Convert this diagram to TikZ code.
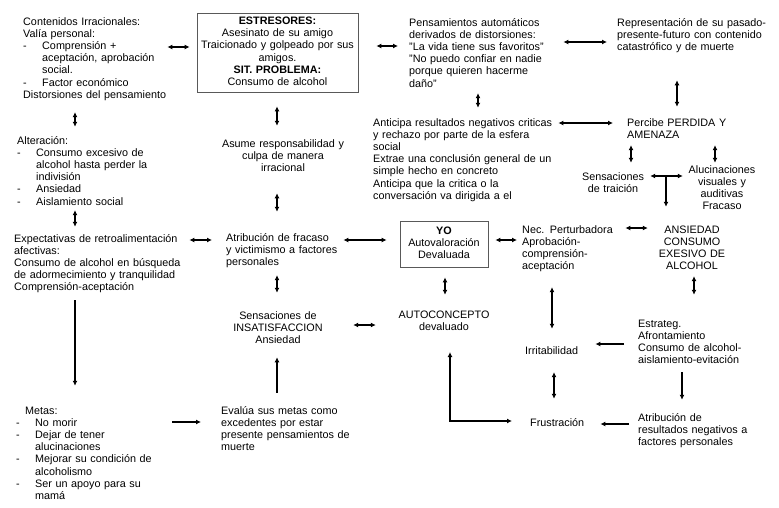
\documentclass[tikz,border=0pt]{standalone}
\usepackage{fontspec}
\setmainfont{Liberation Sans}
\usetikzlibrary{arrows.meta}
\newcommand{\litem}{\makebox[19pt][l]{-}}
\newcommand{\lcont}{\hspace*{19pt}}
\tikzset{
  lt/.style={anchor=base west, align=left, inner sep=0pt, text width=#1,
    execute at begin node=\strut, execute at end node=\strut},
  ct/.style={anchor=base, align=center, inner sep=0pt, text width=#1,
    execute at begin node=\strut, execute at end node=\strut},
  bx/.style={draw=black!65, line width=0.8pt, align=center, inner sep=0pt, text width=#1,
    execute at begin node=\strut, execute at end node=\strut},
  dbl/.style={{Latex[length=5pt,width=5pt]}-{Latex[length=5pt,width=5pt]}, line width=1.2pt},
  sgl/.style={-{Latex[length=5pt,width=5pt]}, line width=1.2pt}
}
\begin{document}
\begin{tikzpicture}[x=1pt,y=1pt,yscale=-1,xscale=1,font=\fontsize{10.8}{12.2}\selectfont]
        \path[use as bounding box, fill=white] (0,0) rectangle (779,507);

        % Text Node
        \node[lt=144] (cont) at (23,25) {Contenidos Irracionales:\\Valía personal:\\\litem Comprensión +\\\lcont aceptación, aprobación\\\lcont social.\\\litem Factor económico\\Distorsiones del pensamiento};
        % Box
        \node[bx=155, minimum width=161pt, minimum height=79pt] (estr) at (277.5,52.5) {\textbf{ESTRESORES:}\\Asesinato de su amigo\\Traicionado y golpeado por sus\\amigos.\\\textbf{SIT. PROBLEMA:}\\Consumo de alcohol};
        % Text Node
        \node[lt=152] (pens) at (409,26) {Pensamientos automáticos\\derivados de distorsiones:\\"La vida tiene sus favoritos"\\"No puedo confiar en nadie\\porque quieren hacerme\\daño"};
        % Text Node
        \node[lt=155] (repr) at (617,26) {Representación de su pasado-\\presente-futuro con contenido\\catastrófico y de muerte};
        % Text Node
        \node[lt=150] (alter) at (17,144) {Alteración:\\\litem Consumo excesivo de\\\lcont alcohol hasta perder la\\\lcont indivisión\\\litem Ansiedad\\\litem Aislamiento social};
        % Text Node
        \node[ct=130] (asume) at (283,147) {Asume responsabilidad y\\culpa de manera\\irracional};
        % Text Node
        \node[lt=184] (anticipa) at (373,126) {Anticipa resultados negativos criticas\\y rechazo por parte de la esfera\\social\\Extrae una conclusión general de un\\simple hecho en concreto\\Anticipa que la critica o la\\conversación va dirigida a el};
        % Text Node
        \node[lt=110] (percibe) at (627,126) {Percibe PERDIDA Y\\AMENAZA};
        % Text Node
        \node[ct=70] (traicion) at (613,180) {Sensaciones\\de traición};
        % Text Node
        \node[ct=74] (aluc) at (722,173) {Alucinaciones\\visuales y\\auditivas\\Fracaso};
        % Text Node
        \node[lt=172] (expect) at (14,242) {Expectativas de retroalimentación\\afectivas:\\Consumo de alcohol en búsqueda\\de adormecimiento y tranquilidad\\Comprensión-aceptación};
        % Text Node
        \node[lt=115] (atrib) at (226,241) {Atribución de fracaso\\y victimismo a factores\\personales};
        % Box
        \node[bx=84, minimum width=88pt, minimum height=46pt] (yo) at (444,244) {\textbf{YO}\\Autovaloración\\Devaluada};
        % Text Node
        \node[lt=100] (nec) at (522,233) {Nec. Perturbadora\\Aprobación-\\comprensión-\\aceptación};
        % Text Node
        \node[ct=76] (ansiedad) at (692,233) {ANSIEDAD\\CONSUMO\\EXESIVO DE\\ALCOHOL};
        % Text Node
        \node[ct=94] (insat) at (278,319) {Sensaciones de\\INSATISFACCION\\Ansiedad};
        % Text Node
        \node[ct=94] (auto) at (444,318) {AUTOCONCEPTO\\devaluado};
        % Text Node
        \node[lt=62] (irrit) at (525,354) {Irritabilidad};
        % Text Node
        \node[lt=112] (estrateg) at (638,327) {Estrateg.\\Afrontamiento\\Consumo de alcohol-\\aislamiento-evitación};
        % Text Node
        \node[lt=62] (frust) at (530,426) {Frustración};
        % Text Node
        \node[lt=115] (atribres) at (638,421) {Atribución de\\resultados negativos a\\factores personales};
        % Text Node
        \node[lt=150] (metas) at (16,414) {\hspace*{9pt}Metas:\\\litem No morir\\\litem Dejar de tener\\\lcont alucinaciones\\\litem Mejorar su condición de\\\lcont alcoholismo\\\litem Ser un apoyo para su\\\lcont mamá};
        % Text Node
        \node[lt=130] (evalua) at (221,414) {Evalúa sus metas como\\excedentes por estar\\presente pensamientos de\\muerte};

        %Arrows, top row
        \draw[dbl, shorten <=0pt, shorten >=7pt] (cont.east |- 0,47) -- (estr.west |- 0,47);
        \draw[dbl, shorten <=18pt, shorten >=11pt] (estr.east |- 0,46) -- (pens.west |- 0,46);
        \draw[dbl, shorten <=2pt, shorten >=10pt] (pens.east |- 0,42) -- (repr.west |- 0,42);
        \draw[dbl, shorten <=10.1pt, shorten >=8.5pt] (cont.south -| 75,0) -- (alter.north -| 75,0);
        \draw[dbl, shorten <=14pt, shorten >=12.5pt] (estr.south -| 277,0) -- (asume.north -| 277,0);
        \draw[dbl, shorten <=2.3pt, shorten >=9.5pt] (pens.south -| 478,0) -- (anticipa.north -| 478,0);
        \draw[dbl, shorten <=26pt, shorten >=10.5pt] (repr.south -| 677,0) -- (percibe.north -| 677,0);
        %Arrows, right branch
        \draw[dbl, shorten <=1pt, shorten >=14pt] (anticipa.east |- 0,123) -- (percibe.west |- 0,123);
        \draw[dbl, shorten <=3.1pt, shorten >=8.5pt] (percibe.south -| 631,0) -- (traicion.north -| 631,0);
        \draw[dbl, shorten <=3.1pt, shorten >=1.5pt] (percibe.south -| 715,0) -- (aluc.north -| 715,0);
        \draw[dbl, shorten <=2pt, shorten >=2pt] (traicion.east |- 0,176) -- (aluc.west |- 0,176);
        \coordinate (tj) at (666,176);
        \draw[sgl, shorten >=17.5pt] (tj) -- (tj |- ansiedad.north);
        %Arrows, middle row
        \draw[dbl, shorten <=1.3pt, shorten >=6.5pt] (alter.south -| 75,0) -- (expect.north -| 75,0);
        \draw[dbl, shorten <=18pt, shorten >=20.5pt] (asume.south -| 277,0) -- (atrib.north -| 277,0);
        \draw[dbl, shorten <=3pt, shorten >=14pt] (expect.east |- 0,240) -- (atrib.west |- 0,240);
        \draw[dbl, shorten <=2pt, shorten >=13pt] (atrib.east |- 0,240) -- (yo.west |- 0,240);
        \draw[dbl, shorten <=7pt, shorten >=5pt] (yo.east |- 0,240) -- (nec.west |- 0,240);
        \draw[dbl, shorten <=3pt, shorten >=6pt] (nec.east |- 0,228) -- (ansiedad.west |- 0,228);
        \draw[dbl, shorten <=5.9pt, shorten >=17.5pt] (atrib.south -| 277,0) -- (insat.north -| 277,0);
        \draw[dbl, shorten <=10pt, shorten >=14.5pt] (yo.south -| 445,0) -- (auto.north -| 445,0);
        \draw[dbl, shorten <=13.7pt, shorten >=16.5pt] (nec.south -| 552,0) -- (irrit.north -| 552,0);
        \draw[dbl, shorten <=2.7pt, shorten >=23.5pt] (ansiedad.south -| 694,0) -- (estrateg.north -| 694,0);
        \draw[dbl, shorten <=28pt, shorten >=21pt] (insat.east |- 0,325) -- (auto.west |- 0,325);
        %Arrows, bottom row
        \draw[sgl, shorten <=5.5pt, shorten >=19.5pt] (expect.south -| 75,0) -- (metas.north -| 75,0);
        \draw[sgl, shorten <=12.5pt, shorten >=10pt] (evalua.north -| 277,0) -- (insat.south -| 277,0);
        \draw[sgl, shorten <=14pt, shorten >=8pt] (estrateg.west |- 0,344) -- (irrit.east |- 0,344);
        \coordinate (lc) at (450,421);
        \draw[dbl, shorten <=18pt, shorten >=18pt] (frust.west |- lc) -- (lc) -- (auto.south -| lc);
        \draw[dbl, shorten <=14.3pt, shorten >=18.5pt] (irrit.south -| 554,0) -- (frust.north -| 554,0);
        \draw[sgl, shorten <=4.7pt, shorten >=12.5pt] (estrateg.south -| 682,0) -- (atribres.north -| 682,0);
        \draw[sgl, shorten <=9pt, shorten >=8pt] (atribres.west |- 0,424) -- (frust.east |- 0,424);
        \draw[sgl, shorten <=6pt, shorten >=20pt] (metas.east |- 0,422) -- (evalua.west |- 0,422);
\end{tikzpicture}
\end{document}
